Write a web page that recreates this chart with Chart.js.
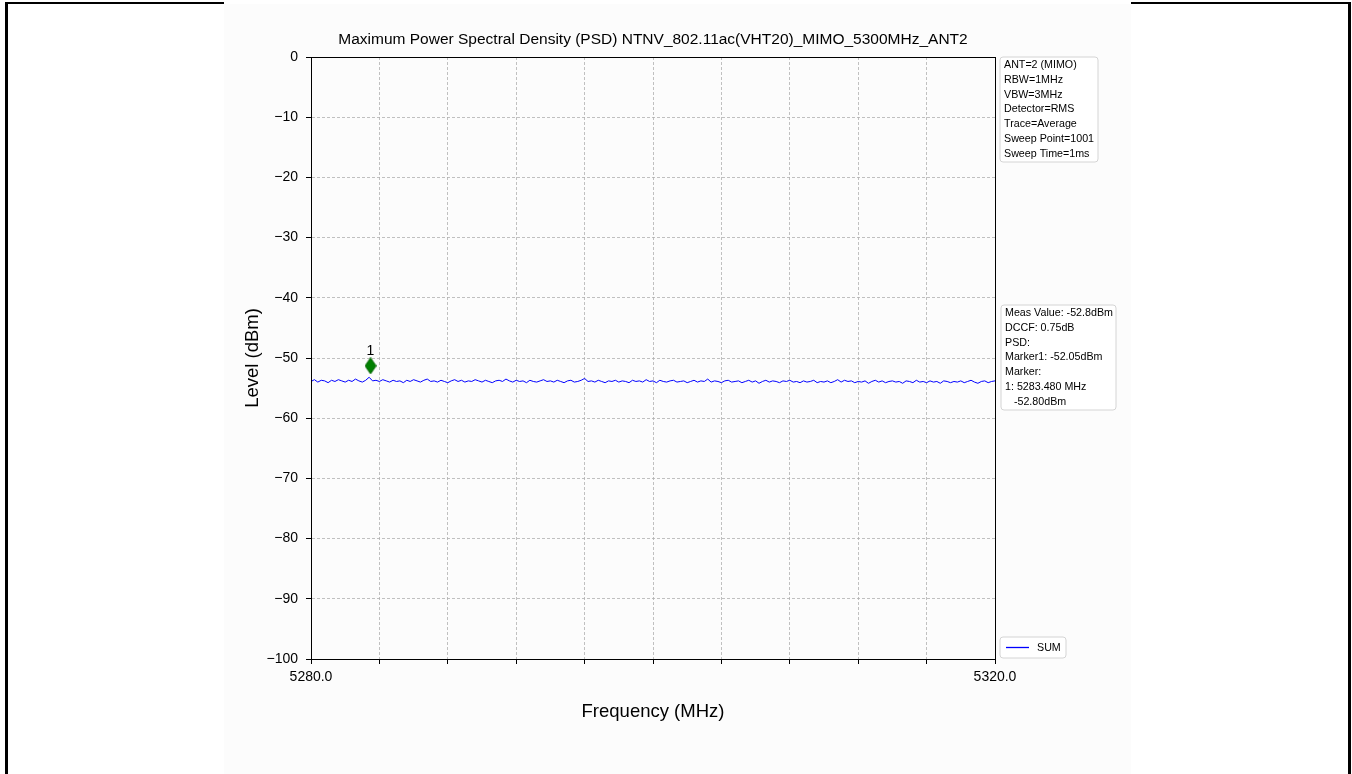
<!DOCTYPE html>
<html>
<head>
<meta charset="utf-8">
<title>PSD</title>
<script src="https://cdn.jsdelivr.net/npm/chart.js@4/dist/chart.umd.min.js"></script>
<style>
  html, body { margin: 0; padding: 0; background: #fff; }
  #wrap { position: relative; width: 1352px; height: 774px; overflow: hidden; }
  #bg { position: absolute; left: 224px; top: 4px; width: 907px; height: 770px; background: #fcfcfc; }
  .edge { position: absolute; background: #000; }
  canvas { position: absolute; left: 0; top: 0; }
</style>
</head>
<body>
<div id="wrap">
  <div id="bg"></div>
  <div class="edge" style="left:5px;top:2px;width:3px;height:772px"></div>
  <div class="edge" style="left:5px;top:2px;width:219px;height:2px"></div>
  <div class="edge" style="left:1131px;top:2px;width:220px;height:2px"></div>
  <div class="edge" style="left:1348px;top:2px;width:3px;height:772px"></div>
  <canvas id="psd" width="1352" height="774"></canvas>
</div>
<script>
// sweep range (MHz)
const freqStart = 5280;
const freqStop = 5320;
const xTicks = [5280, 5320];
const yTicks = [0, -10, -20, -30, -40, -50, -60, -70, -80, -90, -100];

// trace "SUM" levels (dBm)
const sumLevels = [
  -53.9, -53.6, -54.0, -53.7, -53.8, -54.1, -53.7, -53.9, -53.6, -53.8,
  -54.0, -53.7, -53.9, -53.5, -53.8, -54.0, -53.7, -53.2, -53.8, -53.7,
  -53.9, -53.6, -53.8, -54.0, -53.7, -53.9, -53.8, -54.1, -53.7, -53.9,
  -53.6, -53.8, -54.0, -53.7, -53.5, -53.9, -53.8, -54.0, -53.7, -53.9,
  -54.1, -53.8, -53.6, -53.9, -53.7, -54.0, -53.8, -53.9, -53.6, -53.8,
  -54.0, -53.7, -53.9, -54.1, -53.8, -53.7, -53.9, -53.5, -53.8, -54.0,
  -53.7, -53.9, -53.8, -54.1, -53.7, -53.9, -54.0, -53.8, -53.6, -53.9,
  -53.8, -54.0, -53.7, -53.9, -54.1, -53.8, -53.7, -54.0, -53.9, -53.7,
  -53.4, -53.9, -53.8, -54.0, -53.7, -53.9, -54.1, -53.8, -53.9, -53.7,
  -54.0, -53.8, -53.9, -54.1, -53.7, -53.9, -53.8, -54.0, -53.6, -53.9,
  -53.8, -54.1, -53.7, -53.9, -54.0, -53.8, -53.7, -54.0, -53.9, -53.8,
  -54.1, -53.9, -53.7, -54.0, -53.8, -53.9, -53.5, -54.0, -53.8, -53.9,
  -54.1, -53.8, -53.7, -54.0, -53.9, -53.8, -54.1, -53.9, -53.7, -54.0,
  -53.8, -54.2, -53.9, -53.7, -54.0, -53.8, -53.9, -54.1, -53.8, -53.9,
  -53.7, -54.0, -53.9, -54.1, -53.8, -54.0, -53.9, -53.7, -54.1, -53.9,
  -54.0, -53.8, -54.1, -53.9, -53.6, -54.0, -53.7, -53.9, -53.8, -54.1,
  -53.9, -54.0, -53.8, -54.2, -53.9, -53.7, -54.0, -53.8, -54.1, -53.9,
  -53.8, -54.0, -53.9, -54.2, -53.8, -53.9, -54.1, -53.7, -54.0, -53.9,
  -54.1, -53.8, -54.0, -53.9, -54.2, -53.8, -53.9, -54.1, -53.9, -54.0,
  -53.8, -54.1, -53.9, -53.7, -54.0, -54.2, -53.9, -53.8, -54.1, -53.9,
  -53.8
];

// marker 1
const markerFreq = [5283.48];
const markerLevel = [-51.3];
const markerLabels = ['1'];

const titleText = 'Maximum Power Spectral Density (PSD) NTNV_802.11ac(VHT20)_MIMO_5300MHz_ANT2';
const setupLines = ['ANT=2 (MIMO)', 'RBW=1MHz', 'VBW=3MHz', 'Detector=RMS', 'Trace=Average', 'Sweep Point=1001', 'Sweep Time=1ms'];
const resultLines = ['Meas Value: -52.8dBm', 'DCCF: 0.75dB', 'PSD:', 'Marker1: -52.05dBm', 'Marker:', '1: 5283.480 MHz', '   -52.80dBm'];

const FONT = '"Liberation Sans", Arial, sans-serif';

const step = (freqStop - freqStart) / (sumLevels.length - 1);
const sumPoints = sumLevels.map((v, i) => ({ x: freqStart + i * step, y: v }));
const markerPoints = markerFreq.map((f, i) => ({ x: f, y: markerLevel[i] }));

// thin diamond like matplotlib 'd'
const diamond = document.createElement('canvas');
diamond.width = 12;
diamond.height = 17;
(function () {
    const c = diamond.getContext('2d');
    c.beginPath();
    c.moveTo(6, 0.5);
    c.lineTo(11.5, 8.5);
    c.lineTo(6, 16.5);
    c.lineTo(0.5, 8.5);
    c.closePath();
    c.fillStyle = '#008000';
    c.fill();
    c.strokeStyle = '#006400';
    c.lineWidth = 1;
    c.stroke();
})();

function roundBox(ctx, x, y, w, h, r) {
    ctx.beginPath();
    ctx.moveTo(x + r, y);
    ctx.lineTo(x + w - r, y);
    ctx.quadraticCurveTo(x + w, y, x + w, y + r);
    ctx.lineTo(x + w, y + h - r);
    ctx.quadraticCurveTo(x + w, y + h, x + w - r, y + h);
    ctx.lineTo(x + r, y + h);
    ctx.quadraticCurveTo(x, y + h, x, y + h - r);
    ctx.lineTo(x, y + r);
    ctx.quadraticCurveTo(x, y, x + r, y);
    ctx.closePath();
}

function textBox(ctx, x, y, w, h, lines) {
    roundBox(ctx, x, y, w, h, 3);
    ctx.fillStyle = 'rgba(255,255,255,0.9)';
    ctx.fill();
    ctx.strokeStyle = '#d4d4d4';
    ctx.lineWidth = 1;
    ctx.stroke();
    ctx.fillStyle = '#000';
    ctx.font = '10.7px ' + FONT;
    ctx.textAlign = 'left';
    ctx.textBaseline = 'middle';
    lines.forEach((t, i) => ctx.fillText(t, x + 4, y + 8 + i * 14.8));
}

const overlay = {
    id: 'overlay',
    afterDraw(chart) {
        const { ctx, chartArea: a, scales: { x, y } } = chart;
        ctx.save();

        // full frame round the plot
        ctx.strokeStyle = '#000';
        ctx.lineWidth = 1;
        ctx.strokeRect(Math.round(a.left) + 0.5, Math.round(a.top) + 0.5,
            Math.round(a.right - a.left), Math.round(a.bottom - a.top));

        // title
        ctx.fillStyle = '#000';
        ctx.font = '15.5px ' + FONT;
        ctx.textAlign = 'center';
        ctx.textBaseline = 'middle';
        ctx.fillText(titleText, (a.left + a.right) / 2, 40);

        // marker label
        ctx.font = '14px ' + FONT;
        ctx.textBaseline = 'alphabetic';
        markerFreq.forEach((f, i) => {
            ctx.fillText(markerLabels[i], x.getPixelForValue(f), y.getPixelForValue(markerLevel[i]) - 11);
        });

        // info boxes
        textBox(ctx, a.right + 5, a.top, 98, 105, setupLines);
        textBox(ctx, a.right + 6, 305, 115, 105, resultLines);

        // legend
        roundBox(ctx, a.right + 5, a.bottom - 22, 66, 21, 3);
        ctx.fillStyle = 'rgba(255,255,255,0.9)';
        ctx.fill();
        ctx.strokeStyle = '#d4d4d4';
        ctx.stroke();
        ctx.strokeStyle = '#0000ff';
        ctx.lineWidth = 1.3;
        ctx.beginPath();
        ctx.moveTo(a.right + 11, a.bottom - 11.5);
        ctx.lineTo(a.right + 34, a.bottom - 11.5);
        ctx.stroke();
        ctx.fillStyle = '#000';
        ctx.font = '10.7px ' + FONT;
        ctx.textAlign = 'left';
        ctx.textBaseline = 'middle';
        ctx.fillText('SUM', a.right + 42, a.bottom - 11);

        ctx.restore();
    }
};

new Chart(document.getElementById('psd'), {
    type: 'line',
    data: {
        datasets: [{
            label: 'SUM',
            data: sumPoints,
            borderColor: '#0000ff',
            borderWidth: 1,
            pointRadius: 0,
            tension: 0,
            fill: false,
            order: 2
        }, {
            label: 'Marker1',
            data: markerPoints,
            showLine: false,
            pointStyle: diamond,
            pointRadius: 6,
            order: 1
        }]
    },
    options: {
        responsive: false,
        animation: false,
        events: [],
        layout: { padding: { left: 221, right: 357, top: 57, bottom: 0 } },
        plugins: {
            legend: { display: false },
            title: { display: false },
            tooltip: { enabled: false }
        },
        scales: {
            x: {
                type: 'linear',
                min: freqStart,
                max: freqStop,
                afterFit: (s) => { s.height = 115; },
                ticks: {
                    stepSize: 4,
                    autoSkip: false,
                    maxRotation: 0,
                    padding: 5,
                    color: '#000',
                    font: { family: FONT, size: 14 },
                    callback: (v) => xTicks.includes(v) ? v.toFixed(1) : ''
                },
                grid: {
                    color: '#b0b0b0',
                    lineWidth: 0.8,
                    tickLength: 5,
                    tickColor: '#000',
                    tickWidth: 1,
                    tickBorderDash: []
                },
                border: { display: true, color: '#000', width: 1, dash: [3, 2] },
                title: {
                    display: true,
                    text: 'Frequency (MHz)',
                    color: '#000',
                    font: { family: FONT, size: 18.5 },
                    padding: { top: 0, bottom: 51 }
                }
            },
            y: {
                min: -100,
                max: 0,
                afterFit: (s) => { s.width = 90; },
                afterBuildTicks: (s) => { s.ticks = yTicks.map(v => ({ value: v })); },
                ticks: {
                    padding: 8,
                    color: '#000',
                    font: { family: FONT, size: 14 },
                    callback: (v) => v === 0 ? '0' : '\u2212' + Math.abs(v)
                },
                grid: {
                    color: '#b0b0b0',
                    lineWidth: 0.8,
                    tickLength: 5,
                    tickColor: '#000',
                    tickWidth: 1,
                    tickBorderDash: []
                },
                border: { display: true, color: '#000', width: 1, dash: [3, 2] },
                title: {
                    display: true,
                    text: 'Level (dBm)',
                    color: '#000',
                    font: { family: FONT, size: 18.5 },
                    padding: { top: 21, bottom: 0 }
                }
            }
        }
    },
    plugins: [overlay]
});
</script>
</body>
</html>
